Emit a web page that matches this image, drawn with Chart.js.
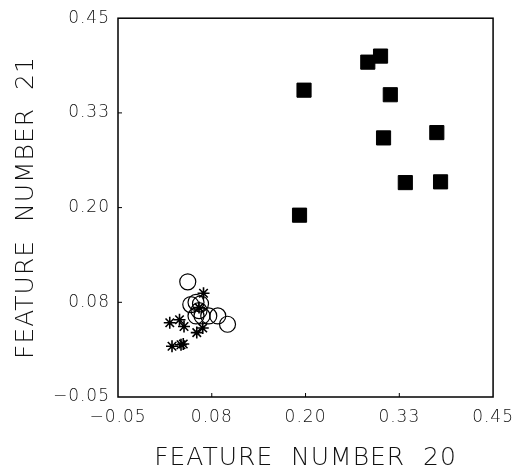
<!DOCTYPE html>
<html>
<head>
<meta charset="utf-8">
<script src="https://cdn.jsdelivr.net/npm/chart.js@4.4.0/dist/chart.umd.min.js"></script>
<style>
  html, body { margin: 0; padding: 0; background: #fff; }
  #wrap { width: 522px; height: 474px; }
</style>
</head>
<body>
<div id="wrap"><canvas id="chart"></canvas></div>
<script>
// axis ticks (evenly spaced, labels rounded as printed)
const tickValues = [-0.05, 0.075, 0.2, 0.325, 0.45];
const tickLabels = ['\u22120.05', '0.08', '0.20', '0.33', '0.45'];

// filled squares
const squareX = [0.198, 0.283, 0.300, 0.313, 0.304, 0.375, 0.333, 0.380, 0.192];
const squareY = [0.355, 0.392, 0.400, 0.349, 0.292, 0.299, 0.233, 0.234, 0.190];

// open circles
const circleX = [0.043, 0.047, 0.054, 0.060, 0.058, 0.054, 0.062, 0.071, 0.083, 0.096];
const circleY = [0.102, 0.072, 0.075, 0.073, 0.064, 0.057, 0.057, 0.057, 0.057, 0.046];

// asterisks
const starX = [0.064, 0.058, 0.019, 0.032, 0.038, 0.055, 0.063, 0.022, 0.034, 0.037];
const starY = [0.087, 0.068, 0.048, 0.052, 0.043, 0.035, 0.041, 0.017, 0.019, 0.020];

const toPoints = (xs, ys) => xs.map((x, i) => ({ x: x, y: ys[i] }));

const FONT = "'DejaVu Sans', sans-serif";

// letter spacing like the old plotter lettering, plus frame and inward ticks
const framePlugin = {
  id: 'frame',
  beforeDraw(chart) {
    chart.ctx.letterSpacing = '1px';
  },
  afterDraw(chart) {
    const { ctx, chartArea: a, scales } = chart;
    ctx.save();
    ctx.strokeStyle = '#000';
    ctx.lineWidth = 1.5;
    ctx.strokeRect(a.left, a.top, a.right - a.left, a.bottom - a.top);
    ctx.lineWidth = 1;
    ctx.beginPath();
    tickValues.slice(1, -1).forEach(v => {
      const px = scales.x.getPixelForValue(v);
      ctx.moveTo(px, a.bottom);
      ctx.lineTo(px, a.bottom - 4);
      const py = scales.y.getPixelForValue(v);
      ctx.moveTo(a.left, py);
      ctx.lineTo(a.left + 4, py);
    });
    ctx.stroke();
    ctx.restore();
  }
};

new Chart(document.getElementById('chart'), {
  type: 'scatter',
  data: {
    datasets: [
      {
        data: toPoints(squareX, squareY),
        pointStyle: 'rect',
        pointRadius: 10,
        backgroundColor: '#000',
        borderColor: '#000',
        borderWidth: 1
      },
      {
        data: toPoints(circleX, circleY),
        pointStyle: 'circle',
        pointRadius: 8,
        backgroundColor: 'rgba(0,0,0,0)',
        borderColor: '#000',
        borderWidth: 1.2
      },
      {
        data: toPoints(starX, starY),
        pointStyle: 'star',
        pointRadius: 6,
        backgroundColor: 'rgba(0,0,0,0)',
        borderColor: '#000',
        borderWidth: 1.6
      }
    ]
  },
  options: {
    responsive: true,
    maintainAspectRatio: false,
    animation: false,
    events: [],
    layout: { padding: { left: 0, top: 15, right: 24, bottom: 0 } },
    plugins: { legend: { display: false }, tooltip: { enabled: false } },
    scales: {
      x: {
        type: 'linear',
        min: -0.05,
        max: 0.45,
        afterBuildTicks: s => { s.ticks = tickValues.map(v => ({ value: v })); },
        afterFit: s => { s.height = 77; },
        grid: { display: false, drawTicks: false },
        border: { display: false },
        ticks: {
          padding: 10,
          color: '#111',
          font: { family: FONT, size: 17, weight: 200 },
          callback: (v, i) => tickLabels[i]
        },
        title: {
          display: true,
          text: 'FEATURE  NUMBER  20',
          color: '#111',
          font: { family: FONT, size: 25, weight: 200 },
          padding: { top: 0, bottom: 1 }
        }
      },
      y: {
        type: 'linear',
        min: -0.05,
        max: 0.45,
        afterBuildTicks: s => { s.ticks = tickValues.map(v => ({ value: v })); },
        afterFit: s => { s.width = 118; },
        grid: { display: false, drawTicks: false },
        border: { display: false },
        ticks: {
          padding: 8,
          color: '#111',
          font: { family: FONT, size: 17, weight: 200 },
          callback: (v, i) => tickLabels[i]
        },
        title: {
          display: true,
          text: 'FEATURE  NUMBER  21',
          color: '#111',
          font: { family: FONT, size: 25, weight: 200 },
          padding: { top: 11, bottom: 0 }
        }
      }
    }
  },
  plugins: [framePlugin]
});
</script>
</body>
</html>
